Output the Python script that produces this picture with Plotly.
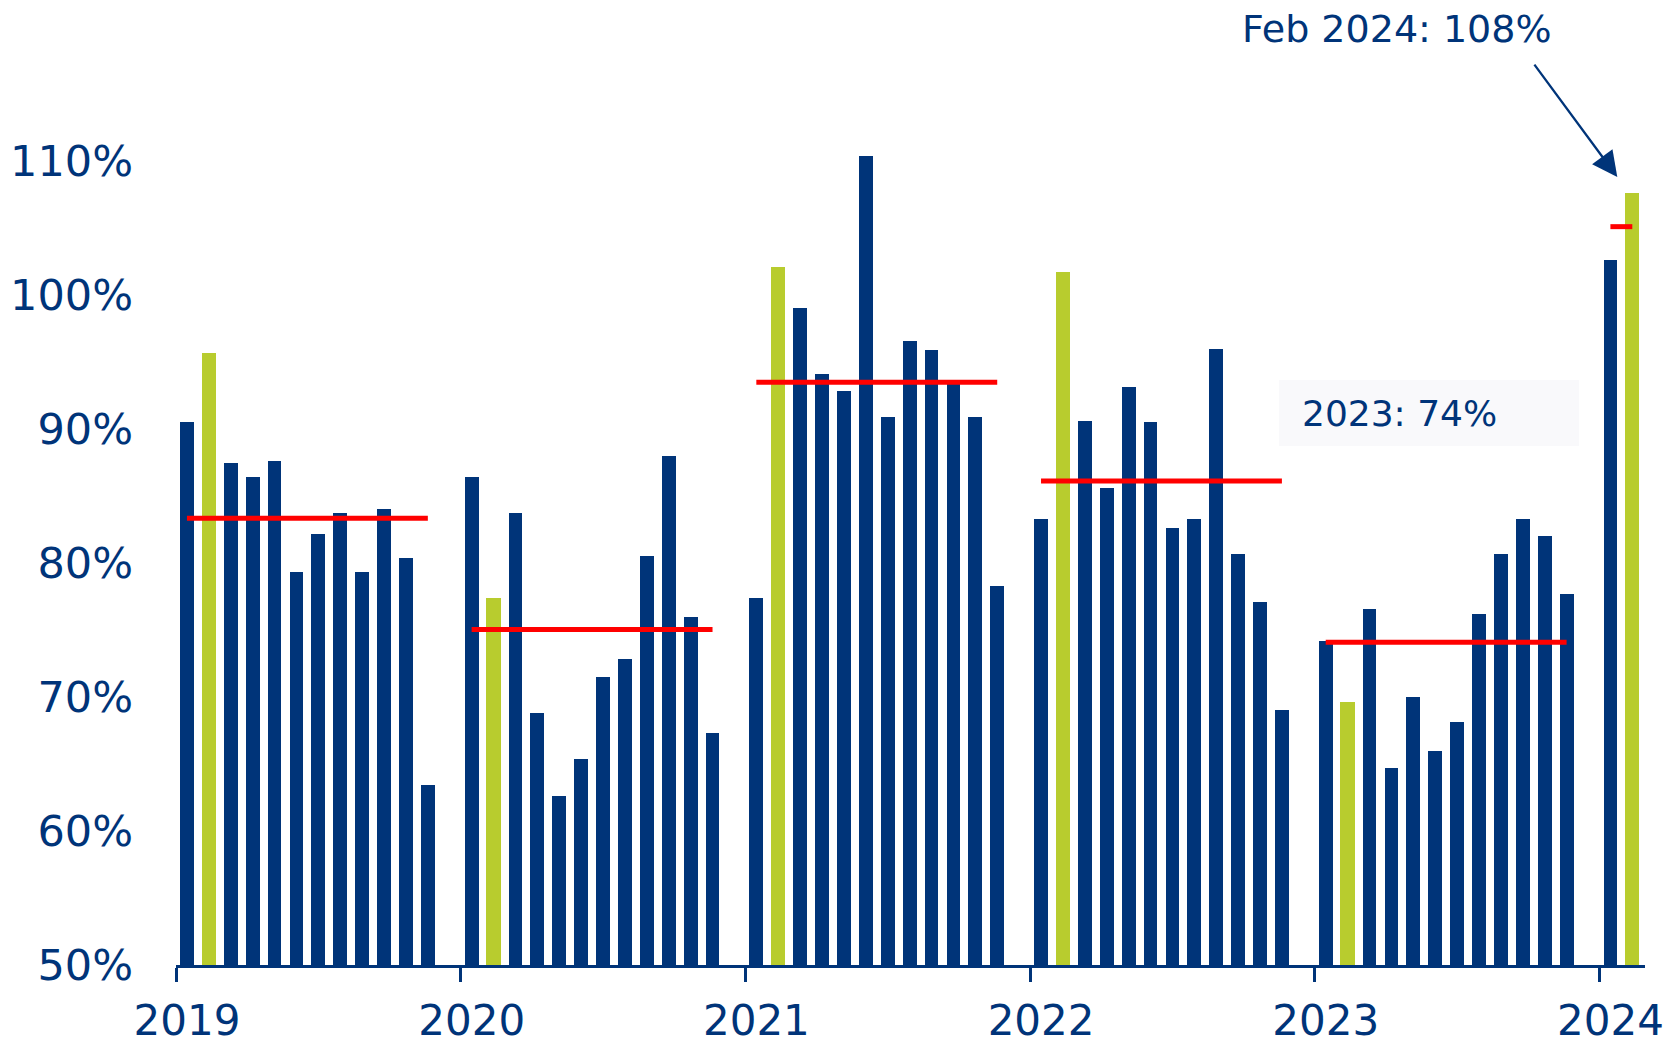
import plotly.graph_objects as go

# ---- data ----
years = [2019, 2020, 2021, 2022, 2023, 2024]
month_labels = ["Jan", "Feb", "Mar", "Apr", "May", "Jun", "Jul", "Aug", "Sep", "Oct", "Nov", "Dec"]
values_2019 = [90.5, 95.7, 87.5, 86.4, 87.6, 79.3, 82.2, 83.7, 79.3, 84.0, 80.4, 63.4]
values_2020 = [86.4, 77.4, 83.7, 68.8, 62.6, 65.4, 71.5, 72.8, 80.5, 88.0, 76.0, 67.3]
values_2021 = [77.4, 102.1, 99.0, 94.1, 92.8, 110.4, 90.9, 96.6, 95.9, 93.4, 90.9, 78.3]
values_2022 = [83.3, 101.7, 90.6, 85.6, 93.1, 90.5, 82.6, 83.3, 96.0, 80.7, 77.1, 69.0]
values_2023 = [74.2, 69.6, 76.6, 64.7, 70.0, 66.0, 68.1, 76.2, 80.7, 83.3, 82.0, 77.7]
values_2024 = [102.6, 107.6]
values_by_year = [values_2019, values_2020, values_2021, values_2022, values_2023, values_2024]
highlight_month = "Feb"
y_tick_values = [50, 60, 70, 80, 90, 100, 110]
y_tick_labels = ["50%", "60%", "70%", "80%", "90%", "100%", "110%"]
x_tick_labels = ["2019", "2020", "2021", "2022", "2023", "2024"]
annotation_feb = "Feb 2024: 108%"
annotation_2023 = "2023: 74%"

NAVY = "#003479"
GREEN = "#b8cc2e"
RED = "#ff0000"
FONT = "DejaVu Sans"
SLOTS = 13  # 12 months + 1 gap per year

W, H = 1669, 1038
PL, PR, PT, PB = 176, 1645, 27, 965  # plot area in pixels
PW, PH = PR - PL, PB - PT

fig = go.Figure()

xs_navy, ys_navy, xs_green, ys_green = [], [], [], []
for yr, vals in zip(years, values_by_year):
    for m, v in enumerate(vals):
        xpos = yr + (m + 0.5) / SLOTS
        if month_labels[m] == highlight_month:
            xs_green.append(xpos); ys_green.append(v)
        else:
            xs_navy.append(xpos); ys_navy.append(v)

fig.add_trace(go.Bar(x=xs_navy, y=ys_navy, width=0.63 / SLOTS,
                     marker=dict(color=NAVY, line=dict(width=0)), showlegend=False))
fig.add_trace(go.Bar(x=xs_green, y=ys_green, width=0.65 / SLOTS,
                     marker=dict(color=GREEN, line=dict(width=0)), showlegend=False))

# annual averages
for yr, vals in zip(years, values_by_year):
    avg = sum(vals) / len(vals)
    x0 = yr + 0.5 / SLOTS
    x1 = yr + (len(vals) - 0.5) / SLOTS
    fig.add_trace(go.Scatter(x=[x0, x1], y=[avg, avg], mode="lines",
                             line=dict(color=RED, width=5), showlegend=False,
                             hoverinfo="skip"))

# 2023 box
fig.add_shape(type="rect", xref="paper", yref="paper",
              x0=(1279 - PL) / PW, x1=(1579 - PL) / PW,
              y0=(PB - 446) / PH, y1=(PB - 380) / PH,
              fillcolor="#f9f9fb", line=dict(width=0), layer="below")
fig.add_annotation(xref="paper", yref="paper",
                   x=(1300 - PL) / PW, y=(PB - 413) / PH,
                   xanchor="left", yanchor="middle", showarrow=False,
                   text=annotation_2023, font=dict(family=FONT, size=36, color=NAVY))

# Feb 2024 label + arrow
fig.add_annotation(xref="paper", yref="paper",
                   x=(1397 - PL) / PW, y=(PB - 29) / PH,
                   xanchor="center", yanchor="middle", showarrow=False,
                   text=annotation_feb, font=dict(family=FONT, size=38, color=NAVY))
fig.add_annotation(xref="x", yref="y",
                   x=years[-1] + 1.5 / SLOTS - 15 / 284.7, y=values_2024[1] + 1.2,
                   ax=-84, ay=-114, axref="pixel", ayref="pixel",
                   text="", showarrow=True, arrowhead=2, arrowsize=2.2,
                   arrowwidth=2.3, arrowcolor=NAVY)

fig.update_layout(
    width=W, height=H,
    margin=dict(l=PL, r=W - PR, t=PT, b=H - PB, autoexpand=False),
    plot_bgcolor="white", paper_bgcolor="white",
    bargap=0, barmode="overlay",
    font=dict(family=FONT, color=NAVY),
    xaxis=dict(range=[2019, 2024 + 2.08 / SLOTS], tickvals=years, ticktext=x_tick_labels,
               automargin=False,
               showgrid=False, zeroline=False, showline=True, linecolor=NAVY, linewidth=3,
               ticks="outside", ticklen=14, tickwidth=3, tickcolor=NAVY,
               ticklabelshift=11, ticklabelstandoff=3, ticklabeloverflow="allow",
               tickfont=dict(family=FONT, size=42, color=NAVY)),
    yaxis=dict(range=[50, 120], tickvals=y_tick_values, ticktext=y_tick_labels,
               automargin=False,
               showgrid=False, zeroline=False, showline=False, ticks="",
               ticklabelstandoff=42, tickfont=dict(family=FONT, size=43, color=NAVY)),
)

fig.write_html("out.html", config={"displayModeBar": False},
               post_script="document.body.style.margin='0';document.body.style.overflow='hidden';")
